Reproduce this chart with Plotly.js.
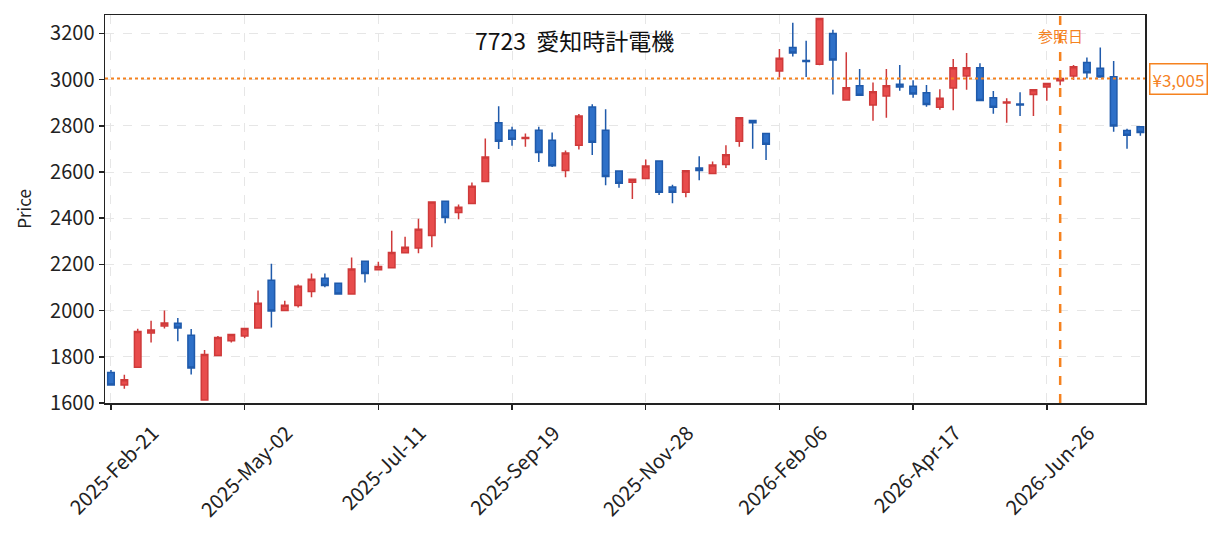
<!DOCTYPE html>
<html>
<head>
<meta charset="utf-8">
<script src="https://cdn.plot.ly/plotly-3.0.1.min.js"></script>
<style>
  body { margin: 0; background: #fff; }
  #chart { width: 1225px; height: 533px; }
</style>
</head>
<body>
<div id="chart"></div>
<script>
// weekly bars
const dates = [
  "2025-02-21", "2025-02-28", "2025-03-07", "2025-03-14", "2025-03-21", "2025-03-28",
  "2025-04-04", "2025-04-11", "2025-04-18", "2025-04-25", "2025-05-02", "2025-05-09",
  "2025-05-16", "2025-05-23", "2025-05-30", "2025-06-06", "2025-06-13", "2025-06-20",
  "2025-06-27", "2025-07-04", "2025-07-11", "2025-07-18", "2025-07-25", "2025-08-01",
  "2025-08-08", "2025-08-15", "2025-08-22", "2025-08-29", "2025-09-05", "2025-09-12",
  "2025-09-19", "2025-09-26", "2025-10-03", "2025-10-10", "2025-10-17", "2025-10-24",
  "2025-10-31", "2025-11-07", "2025-11-14", "2025-11-21", "2025-11-28", "2025-12-05",
  "2025-12-12", "2025-12-19", "2025-12-26", "2026-01-02", "2026-01-09", "2026-01-16",
  "2026-01-23", "2026-01-30", "2026-02-06", "2026-02-13", "2026-02-20", "2026-02-27",
  "2026-03-06", "2026-03-13", "2026-03-20", "2026-03-27", "2026-04-03", "2026-04-10",
  "2026-04-17", "2026-04-24", "2026-05-01", "2026-05-08", "2026-05-15", "2026-05-22",
  "2026-05-29", "2026-06-05", "2026-06-12", "2026-06-19", "2026-06-26", "2026-07-03",
  "2026-07-10", "2026-07-17", "2026-07-24", "2026-07-31", "2026-08-07", "2026-08-14"
];

const opens = [
  1732, 1678, 1755, 1903, 1933, 1945, 1893, 1613, 1806, 1870,
  1890, 1925, 2132, 2000, 2022, 2083, 2140, 2119, 2072, 2214,
  2177, 2186, 2251, 2271, 2325, 2474, 2425, 2464, 2559, 2813,
  2781, 2745, 2781, 2738, 2607, 2716, 2882, 2781, 2604, 2556,
  2572, 2648, 2535, 2513, 2617, 2594, 2633, 2733, 2823, 2767,
  3038, 3139, 3083, 3067, 3200, 2912, 2974, 2890, 2929, 2980,
  2971, 2943, 2881, 2964, 3016, 3052, 2922, 2899, 2895, 2936,
  2968, 2995, 3016, 3074, 3049, 3013, 2780, 2796
];

const highs = [
  1743, 1722, 1922, 1956, 2000, 1968, 1920, 1830, 1890, 1897,
  1923, 2087, 2203, 2043, 2113, 2161, 2161, 2119, 2230, 2214,
  2212, 2346, 2320, 2398, 2470, 2474, 2459, 2555, 2745, 2885,
  2796, 2767, 2796, 2771, 2693, 2851, 2894, 2872, 2604, 2569,
  2654, 2648, 2545, 2606, 2668, 2646, 2716, 2835, 2823, 2767,
  3133, 3246, 3168, 3265, 3216, 3119, 3046, 2988, 3046, 3064,
  2998, 2977, 2959, 3090, 3116, 3071, 2951, 2919, 2945, 2956,
  2983, 3031, 3064, 3096, 3139, 3081, 2788, 2796
];

const lows = [
  1675, 1662, 1755, 1862, 1923, 1867, 1723, 1613, 1803, 1862,
  1880, 1925, 1927, 2000, 2014, 2058, 2101, 2072, 2072, 2122,
  2177, 2186, 2251, 2248, 2274, 2378, 2396, 2464, 2559, 2700,
  2714, 2709, 2643, 2622, 2578, 2698, 2674, 2543, 2532, 2483,
  2572, 2501, 2465, 2491, 2565, 2594, 2617, 2709, 2701, 2652,
  3009, 3100, 3012, 3062, 2936, 2912, 2933, 2822, 2835, 2952,
  2922, 2883, 2870, 2868, 2956, 2910, 2852, 2813, 2843, 2843,
  2909, 2976, 2999, 3006, 3012, 2774, 2701, 2757
];

const closes = [
  1678, 1701, 1910, 1916, 1946, 1925, 1752, 1810, 1884, 1897,
  1923, 2032, 1998, 2023, 2106, 2136, 2109, 2072, 2180, 2161,
  2191, 2252, 2274, 2352, 2470, 2403, 2448, 2539, 2665, 2733,
  2742, 2750, 2685, 2627, 2683, 2843, 2729, 2581, 2552, 2569,
  2626, 2512, 2512, 2606, 2607, 2630, 2675, 2835, 2813, 2720,
  3093, 3116, 3079, 3265, 3085, 2965, 2933, 2948, 2974, 2968,
  2938, 2893, 2919, 3052, 3052, 2910, 2881, 2903, 2890, 2956,
  2983, 3005, 3056, 3030, 3012, 2799, 2759, 2771
];

// x tick positions, every 10 weeks
const tickDates = [
  "2025-02-21", "2025-05-02", "2025-07-11", "2025-09-19",
  "2025-11-28", "2026-02-06", "2026-04-17", "2026-06-26"
];

const yTicks = [1600, 1800, 2000, 2200, 2400, 2600, 2800, 3000, 3200];

const refDate = "2026-07-03";
const refPrice = 3005;

const titleText = "7723  愛知時計電機";

//Build the candlestick chart
function buildChart() {

  const orange = "#f5821f";
  const font = "Noto Sans CJK JP, Noto Sans, sans-serif";

  var data = [
    {
      type: "candlestick",
      x: dates,
      open: opens,
      high: highs,
      low: lows,
      close: closes,
      increasing: { line: { color: "#cf3a3a", width: 1.5 }, fillcolor: "#e84c4c" },
      decreasing: { line: { color: "#1f5aab", width: 1.5 }, fillcolor: "#2e70c8" },
      whiskerwidth: 0,
      showlegend: false,
      hoverinfo: "x+y"
    }
  ];

  var layout = {
    width: 1225,
    height: 533,
    margin: { l: 105, r: 80, t: 15, b: 130 },
    paper_bgcolor: "#ffffff",
    plot_bgcolor: "#ffffff",
    font: { family: font, size: 18, color: "#222" },
    showlegend: false,
    xaxis: {
      type: "date",
      range: ["2025-02-17 21:00", "2026-08-16 10:00"],
      rangeslider: { visible: false },
      tickmode: "array",
      tickvals: tickDates,
      tickformat: "%Y-%b-%d",
      tickangle: -45,
      ticklabelshift: 42,
      ticklabelstandoff: 4,
      ticks: "outside",
      ticklen: 5,
      tickwidth: 1.5,
      tickcolor: "#222",
      showgrid: true,
      gridcolor: "#e6e6e6",
      griddash: "dash",
      gridwidth: 1,
      showline: true,
      linecolor: "#222",
      linewidth: 1.5,
      mirror: true,
      zeroline: false,
      tickfont: { size: 20 }
    },
    yaxis: {
      range: [1600, 3280],
      tickmode: "array",
      tickvals: yTicks,
      ticks: "outside",
      ticklen: 5,
      tickwidth: 1.5,
      tickcolor: "#222",
      showgrid: true,
      gridcolor: "#e6e6e6",
      griddash: "dash",
      gridwidth: 1,
      showline: true,
      linecolor: "#222",
      linewidth: 1.5,
      mirror: true,
      zeroline: false,
      title: { text: "Price", font: { size: 17 }, standoff: 14 },
      tickfont: { size: 20 }
    },
    shapes: [
      // current price line
      {
        type: "line", xref: "paper", yref: "y",
        x0: 0, x1: 1, y0: refPrice, y1: refPrice,
        line: { color: orange, width: 2, dash: "dot" }
      },
      // reference date line
      {
        type: "line", xref: "x", yref: "paper",
        x0: refDate, x1: refDate, y0: 0, y1: 1,
        line: { color: orange, width: 2.5, dash: "dash" }
      }
    ],
    annotations: [
      {
        text: titleText, xref: "paper", yref: "paper",
        x: 0.451, y: 0.935, xanchor: "center", yanchor: "middle",
        showarrow: false, font: { size: 23, color: "#111" }
      },
      {
        text: "参照日", xref: "x", yref: "paper",
        x: refDate, y: 0.948, xanchor: "center", yanchor: "middle",
        showarrow: false, font: { size: 15, color: orange }
      },
      {
        text: "¥3,005", xref: "paper", yref: "y",
        x: 1.004, y: refPrice, xanchor: "left", yanchor: "middle",
        showarrow: false, font: { size: 17, color: orange },
        bgcolor: "#ffffff", bordercolor: orange, borderwidth: 1.5, borderpad: 2
      }
    ]
  };

  Plotly.newPlot("chart", data, layout, { displayModeBar: false, staticPlot: true });
}

buildChart();
</script>
</body>
</html>
